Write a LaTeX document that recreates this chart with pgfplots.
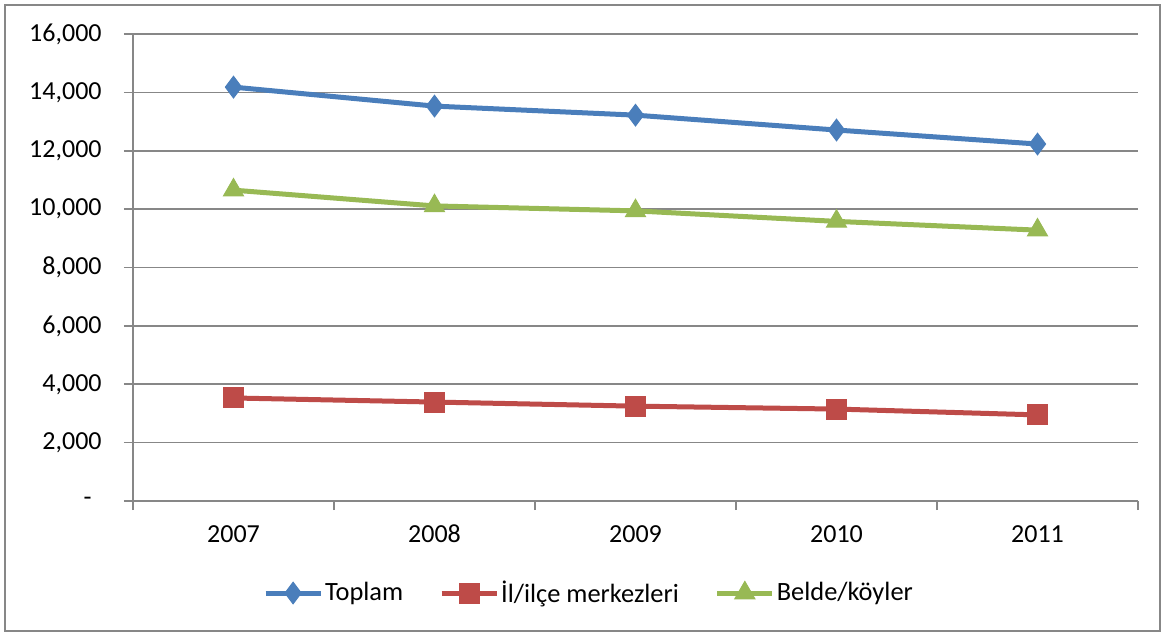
\documentclass[border=0pt]{standalone}
\usepackage{fontspec}
\setmainfont{Carlito}
\usepackage{pgfplots}
\pgfplotsset{compat=1.18}
\definecolor{cblue}{HTML}{4A7EBB}
\definecolor{cred}{HTML}{BE4B48}
\definecolor{cgreen}{HTML}{98B954}
\definecolor{cgrid}{HTML}{878787}
\begin{document}
\begin{tikzpicture}[x=1pt,y=1pt]
\path (0,0) rectangle (582.5,317);
\draw[cgrid, line width=0.8pt] (2.5,1.5) rectangle (580,314.5);
\begin{axis}[
  at={(66.5pt,66.5pt)}, anchor=south west,
  scale only axis, width=502.5pt, height=233.5pt,
  xmin=-0.5, xmax=4.5, ymin=0, ymax=16000,
  scaled y ticks=false,
  axis lines*=left,
  axis line style={cgrid, line width=0.8pt},
  tick style={cgrid, line width=0.8pt},
  tick align=outside,
  major tick length=4.5pt,
  xtick={-0.5,0.5,1.5,2.5,3.5,4.5},
  x tick label as interval,
  xticklabels={2007,2008,2009,2010,2011},
  ytick={0,2000,4000,6000,8000,10000,12000,14000,16000},
  yticklabels={{-\hspace*{5pt}},{2,000},{4,000},{6,000},{8,000},{10,000},{12,000},{14,000},{16,000}},
  ymajorgrids=true,
  grid style={cgrid, line width=0.8pt},
  every tick label/.append style={font=\fontsize{13}{15}\selectfont, text=black},
  yticklabel style={anchor=east, inner sep=0pt, xshift=-11pt},
  xticklabel style={anchor=center, inner sep=0pt, yshift=-12pt},
  legend columns=3,
  legend style={at={(0.4537,-0.197)}, anchor=center, draw=none, fill=none,
    font=\fontsize{13.2}{15}\selectfont,
    /tikz/every even column/.append style={column sep=17pt},
    inner sep=0pt, nodes={inner sep=1pt}},
  legend image code/.code={\draw[mark repeat=2,mark phase=2] plot coordinates {(0pt,0pt)(13.75pt,0pt)(27.5pt,0pt)};},
]
\addplot[cblue, line width=2.5pt, mark=diamond*, mark size=5.4pt, mark options={solid, line width=0.5pt, fill=cblue}]
  coordinates {(0,14180) (1,13530) (2,13220) (3,12710) (4,12230)};
\addlegendentry{Toplam}
\addplot[cred, line width=2.5pt, mark=square*, mark size=5pt, mark options={solid, line width=0.5pt, fill=cred}]
  coordinates {(0,3530) (1,3390) (2,3250) (3,3150) (4,2950)};
\addlegendentry{İl/ilçe merkezleri}
\addplot[cgreen, line width=2.5pt, mark=triangle*, mark size=5.8pt, mark options={solid, line width=0.5pt, fill=cgreen}]
  coordinates {(0,10650) (1,10110) (2,9940) (3,9580) (4,9280)};
\addlegendentry{Belde/köyler}
\end{axis}
\end{tikzpicture}
\end{document}
